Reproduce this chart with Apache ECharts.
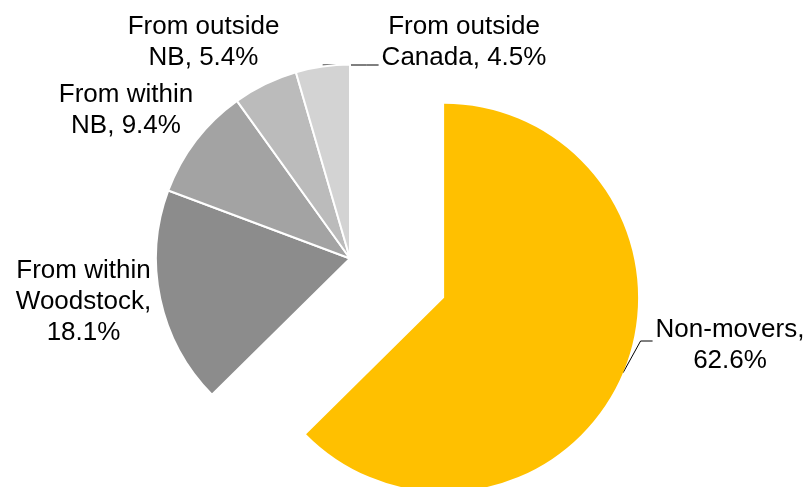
<!DOCTYPE html>
<html>
<head>
<meta charset="utf-8">
<title>Mobility status</title>
<script src="https://cdn.jsdelivr.net/npm/echarts@6/dist/echarts.min.js"></script>
<style>
  html, body { margin: 0; padding: 0; background: #fff; }
  #chart { width: 812px; height: 487px; }
</style>
</head>
<body>
<div id="chart"></div>
<script>
// Mobility status shares (%), clockwise from 12 o'clock
const categories = ['Non-movers', 'From within\nWoodstock', 'From within\nNB', 'From outside\nNB', 'From outside\nCanada'];
const shares = [62.6, 18.1, 9.4, 5.4, 4.5];
// separator placed between the category name and its value in each label
const labelSeparators = ['\n', '\n', ' ', ' ', ' '];
const sliceColors = ['#FFC000', '#8C8C8C', '#A3A3A3', '#BBBBBB', '#D3D3D3'];

// Geometry of the pie; the first slice is pulled out along its bisector
const CX = 350, CY = 258.5, R = 194, EXPLODE = 102;
const EXPLODED_INDEX = 0;

// Where each label block is centred, and its leader line (if any).
// A `flat` leader runs level with its end point, straight across from the arc.
const labelSpots = [
  { x: 730, y: 345.5, leader: { dy: -4.5, run: 12 } },
  { x: 83.5, y: 301.5 },
  { x: 126, y: 110 },
  { x: 203.5, y: 42.5 },
  { x: 464, y: 42.5, leader: { dy: 22.5, run: 12, flat: true } }
];

const total = shares.reduce((a, b) => a + b, 0);

// bisector angle of slice i, measured clockwise from 12 o'clock (radians)
function midAngle(i) {
  let before = 0;
  for (let k = 0; k < i; k++) before += shares[k];
  return (before + shares[i] / 2) / total * Math.PI * 2;
}

const pullA = midAngle(EXPLODED_INDEX);
const explodedCenter = [CX + EXPLODE * Math.sin(pullA), CY - EXPLODE * Math.cos(pullA)];

function arcMidpoint(i) {
  const a = midAngle(i);
  const c = i === EXPLODED_INDEX ? explodedCenter : [CX, CY];
  return [c[0] + R * Math.sin(a), c[1] - R * Math.cos(a)];
}

// Build one pie layer: `paint(i)` decides which slices are filled,
// `labelled(i)` which labels this layer carries.
function buildData(paint, labelled) {
  return categories.map((name, i) => {
    const on = paint(i);
    const lab = labelled(i);
    return {
      name: name,
      value: shares[i],
      itemStyle: on
        ? { color: sliceColors[i], borderColor: '#ffffff', borderWidth: i === EXPLODED_INDEX ? 0 : 2 }
        : { color: 'rgba(0,0,0,0)', borderWidth: 0 },
      label: { show: lab },
      labelLine: { show: lab && !!labelSpots[i].leader }
    };
  });
}

const labelStyle = {
  show: true,
  position: 'outside',
  fontFamily: 'Liberation Sans, Arial, sans-serif',
  fontSize: 26,
  lineHeight: 31,
  color: '#000000',
  align: 'center',
  formatter: p => p.name + ',' + labelSeparators[p.dataIndex] + shares[p.dataIndex].toFixed(1) + '%'
};

function placeLabel(params) {
  const i = params.dataIndex;
  const spot = labelSpots[i];
  const out = { x: spot.x, y: spot.y, align: 'center', verticalAlign: 'middle' };
  if (spot.leader) {
    const left = spot.x - params.labelRect.width / 2;
    const end = [left - 3, spot.y + spot.leader.dy];
    const elbow = [end[0] - spot.leader.run, end[1]];
    const start = arcMidpoint(i);
    if (spot.leader.flat) start[1] = end[1];
    out.labelLinePoints = [start, elbow, end];
  }
  return out;
}

const common = {
  type: 'pie',
  radius: [0, R],
  startAngle: 90,
  clockwise: true,
  avoidLabelOverlap: false,
  emphasis: { disabled: true },
  label: labelStyle,
  labelLine: { showAbove: true, lineStyle: { color: '#000000', width: 1 } },
  labelLayout: placeLabel
};

const hasLeader = i => !!labelSpots[i].leader;

const chart = echarts.init(document.getElementById('chart'), null, { renderer: 'canvas' });

chart.setOption({
  animation: false,
  backgroundColor: '#ffffff',
  series: [
    // the pie with the pulled-out slice left empty
    Object.assign({}, common, {
      name: 'main',
      center: [CX, CY],
      data: buildData(i => i !== EXPLODED_INDEX, i => !hasLeader(i))
    }),
    // the pulled-out slice, drawn on top together with the leader-line labels
    Object.assign({}, common, {
      name: 'exploded',
      center: explodedCenter,
      data: buildData(i => i === EXPLODED_INDEX, i => hasLeader(i))
    })
  ]
});
</script>
</body>
</html>
